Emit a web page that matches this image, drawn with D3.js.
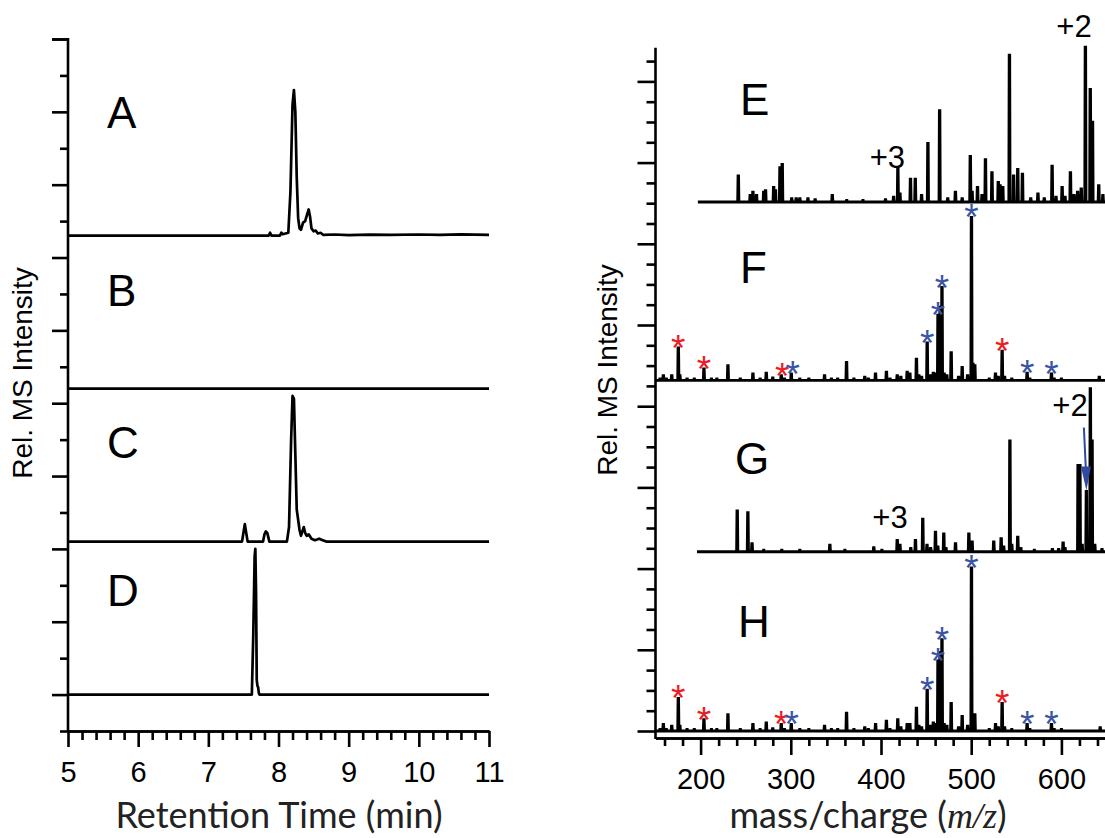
<!DOCTYPE html>
<html>
<head>
<meta charset="utf-8">
<script src="https://cdn.jsdelivr.net/npm/d3@7"></script>
<style>
  body { margin: 0; background: #fff; }
  svg { display: block; }
  text { font-family: "Liberation Sans", Arial, sans-serif; fill: #000; }
</style>
</head>
<body>
<div id="chart"></div>
<script>
// ---- chromatograms: [retention time (min), rel. intensity %]
const traceA = [[5,0],[7.86,0],[7.88,2],[7.9,0],[8.02,0],[8.04,2],[8.06,1],[8.1,1.5],[8.14,2],[8.17,30],[8.2,90],[8.22,100],[8.24,85],
  [8.26,40],[8.28,12],[8.3,5],[8.32,4],[8.35,9],[8.38,10],[8.41,15],[8.43,18],[8.45,13],[8.47,5],[8.5,3],[8.53,3.5],[8.56,1.5],
  [8.6,2],[8.64,0.5],[8.8,0.8],[9.0,0.4],[9.3,0.7],[9.6,0.5],[10.0,0.8],[10.3,0.5],[10.6,0.9],[11,0.6]];
const traceB = [[5,0],[11,0]];
const traceC = [[5,0],[7.48,0],[7.5,6],[7.52,12],[7.54,6],[7.56,0],[7.78,0],[7.8,5],[7.82,7],[7.84,6],[7.87,0],[8.12,0],[8.15,10],
  [8.18,70],[8.2,100],[8.22,98],[8.24,60],[8.26,22],[8.28,15],[8.3,8],[8.32,4],[8.34,7],[8.36,10],[8.38,6],[8.4,4],[8.43,5],
  [8.47,2],[8.52,1],[8.58,2],[8.63,1],[8.68,0],[11,0]];
const traceD = [[5,0],[7.62,0],[7.64,40],[7.66,95],[7.67,100],[7.68,70],[7.69,10],[7.7,6],[7.71,5],[7.72,1],[7.73,0],[11,0]];
const chromTraces = [traceA, traceB, traceC, traceD];
const chromLabels = ["A", "B", "C", "D"];
const rtTicks = [5, 6, 7, 8, 9, 10, 11];

// ---- mass spectra: [m/z, rel. intensity %]
const peaksE = [[241.8,16],[255,4],[258,6],[262,4],[270,6],[272,7],[281,9],[283,7],[288,21],[290.5,23],[301,2],[306,2],[310,2],
  [319,2],[327,1.5],[346,4],[362,1],[380,1],[405,1.5],[414,3],[418.7,20],[421,5],[432.7,14],[438,14],[445,4],[452,36],[465,56],
  [474,2],[482.5,6],[490,2],[499,28],[501,6],[507,9],[512,4],[515.8,26],[523,18],[530,12],[532,10],[535,9],[542.4,90],[547,16],
  [551.6,20],[556.8,17],[566,2],[574,5],[581,2],[589.7,22],[594,3],[600.8,9],[604,3],[610,18],[614,4],[618,6],[622,8],
  [626.6,95],[632,69],[634.5,49],[641.4,10],[646,4]];
const peaksF = [[155,1],[158.7,3],[162,1],[168,3],[175.3,20],[177,3],[185,1],[193,1],[203.7,7],[212,1],[218,1],[230.3,9],[244,1],
  [258,4],[266,1],[272.8,4.5],[280,1.5],[289.4,3],[293,1],[300.5,4],[310,1],[320,1],[337.4,3],[345,1],[352,1],[361.8,11],[370,1],
  [382,2],[386,1],[393.9,4],[406,5],[410,1],[418,3],[422,2],[429,5],[432,4],[439.3,13],[442,3],[445,2],[451.2,23],[455,3],
  [458,4.5],[460,4],[463.2,40],[465.5,45],[467.6,57],[470,4],[473,3],[477.8,17],[486,2],[490,8],[496,3],[500.3,100],[502,10],
  [504,9],[520,1],[526.9,4],[530,2],[534.3,18],[537,2],[545,1],[562,4.5],[565,1],[589,4],[592,1],[600,1],[642,2]];
const peaksG = [[240.6,25],[252.4,24],[257,5],[270,1],[290,1],[310,1],[343.3,4],[360,1],[392,2.5],[401,1],[418,7],[421,4],[433,2],
  [438.2,7],[446.3,20],[451,4],[455,2],[460.4,12],[463,3],[469.6,11],[472,2],[482.6,5],[497.4,11],[501,6],[525,6],[533.2,8],
  [536,3],[542.9,68],[545,4],[551.6,9],[555,2],[570,1],[590,1.5],[597,1.5],[601.9,5.5],[604,2],[618.5,53],[620.5,53],[623,4],
  [627.7,37],[632.1,100],[634,68],[637,4],[645,1.5]];
const peaksH = [[155,1],[158.7,4],[162,1],[168,3],[175.3,20],[177,3],[185,1],[193,1],[203.7,7],[212,1],[218,1],[230.3,10],[244,1],
  [258,4],[266,1],[272.8,5],[280,1.5],[289.4,4],[293,1],[300.5,4],[310,1],[320,1],[337.4,3],[345,1],[352,1],[361.8,11],[370,1],
  [382,2],[386,1],[394,4],[406,6],[410,1],[418.6,7],[422,2],[429,4],[432,4],[439.3,14],[442,3],[445,2],[451.2,25],[455,3],
  [458,5],[460,4],[463.2,43],[465.5,48],[467.6,56],[470,4],[473,3],[477.8,17],[486,2],[490,9],[496,3],[500.3,100],[502,10],
  [504,10],[520,1],[527,4],[530,2],[534.3,17],[537,2],[545,1],[562,4],[565,1],[589,4],[592,1],[600,1],[643,2]];
const spectra = [peaksE, peaksF, peaksG, peaksH];
const spectrumLabels = ["E", "F", "G", "H"];
const spectrumStart = [197, 150, 196, 150];
const mzTicks = [200, 300, 400, 500, 600];

// asterisk annotations: [m/z, colour key]
const starsF = [[175.3,"r"],[203.7,"r"],[290.4,"r"],[302,"b"],[451.2,"b"],[463.2,"b"],[467.6,"b"],[500.3,"b"],[534.3,"r"],[562,"b"],[589,"b"]];
const starsH = [[175.3,"r"],[203.7,"r"],[289.4,"r"],[301,"b"],[451.2,"b"],[463.2,"b"],[467.6,"b"],[500.3,"b"],[534.3,"r"],[562,"b"],[589,"b"]];

const starColor = {r: "#ed1c24", b: "#3b55a6"};

const W = 1105, H = 838;
const svg = d3.select("#chart").append("svg").attr("width", W).attr("height", H);

function axisStyle(g) {
  g.selectAll(".domain, .tick line").attr("stroke", "#000").attr("stroke-width", 2.6);
}

// ================= left: chromatograms =================
const xL = d3.scaleLinear().domain([5, 11]).range([68, 489]);
const yL = d3.scaleLinear().domain([0, 19]).range([731, 39]);
const chromBase = [13.6, 9.4, 5.2, 1.0];   // baseline of each trace (axis units)
const chromScale = 4 / 100;                 // 100 % -> 4 axis units

const left = svg.append("g");

left.append("g")
  .attr("transform", "translate(68,0)")
  .call(d3.axisLeft(yL).tickValues(d3.range(0, 20, 2)).tickSize(8).tickSizeOuter(0).tickFormat(""))
  .call(g => g.select(".domain").remove())
  .call(axisStyle);
left.append("g")
  .attr("transform", "translate(68,0)")
  .call(d3.axisLeft(yL).tickValues(d3.range(1, 20, 2).concat([19])).tickSize(16).tickSizeOuter(0).tickFormat(""))
  .call(g => g.select(".domain").remove())
  .call(axisStyle);
left.append("line").attr("x1", 68).attr("x2", 68).attr("y1", yL(19) - 1).attr("y2", yL(0) + 1)
  .attr("stroke", "#000").attr("stroke-width", 2.6);

left.append("g")
  .attr("transform", "translate(0,731)")
  .call(d3.axisBottom(xL).tickValues(d3.range(5, 11.001, 0.2).filter(v => Math.abs(v - Math.round(v)) > 0.01))
    .tickSize(9).tickSizeOuter(0).tickFormat(""))
  .call(axisStyle);
left.append("g")
  .attr("transform", "translate(0,731)")
  .call(d3.axisBottom(xL).tickValues(rtTicks).tickSize(16).tickSizeOuter(0).tickFormat(d3.format("d")))
  .call(g => g.selectAll("text").attr("y", 51).attr("dy", 0).style("font-size", "29px"))
  .call(axisStyle);

const chromLine = (k) => d3.line()
  .x(d => xL(d[0]))
  .y(d => yL(chromBase[k] + d[1] * chromScale));

chromTraces.forEach((t, k) => {
  left.append("path").datum(t)
    .attr("d", chromLine(k))
    .attr("fill", "none").attr("stroke", "#000")
    .attr("stroke-width", 2.7).attr("stroke-linejoin", "round");
});

const chromLabelY = [128, 306, 458, 606];
chromLabels.forEach((s, k) => {
  left.append("text").attr("x", 107).attr("y", chromLabelY[k])
    .style("font-size", "44px").text(s);
});

left.append("text")
  .attr("transform", "translate(32,373) rotate(-90)")
  .attr("text-anchor", "middle").style("font-size", "28px")
  .text("Rel. MS Intensity");

left.append("text")
  .attr("x", 279).attr("y", 828).attr("text-anchor", "middle")
  .style("font-family", "Lato, 'Open Sans', sans-serif").style("font-size", "36px").style("fill", "#222")
  .text("Retention Time (min)");

// ================= right: mass spectra =================
const xR = d3.scaleLinear().domain([150, 650]).range([655.5, 1106.5]);
const yR = d3.scaleLinear().domain([0, 34]).range([731, 40.8]);
const specBase = [26.06, 17.27, 8.83, 0];
const specScale = 8.03 / 100;

const right = svg.append("g");

right.append("g")
  .attr("transform", "translate(655.5,0)")
  .call(d3.axisLeft(yR).tickValues(d3.range(0, 34).filter(k => k % 4 !== 0)).tickSize(9).tickSizeOuter(0).tickFormat(""))
  .call(g => g.select(".domain").remove())
  .call(axisStyle);
right.append("g")
  .attr("transform", "translate(655.5,0)")
  .call(d3.axisLeft(yR).tickValues(d3.range(0, 34, 4)).tickSize(18).tickSizeOuter(0).tickFormat(""))
  .call(g => g.select(".domain").remove())
  .call(axisStyle);
right.append("line").attr("x1", 655.5).attr("x2", 655.5).attr("y1", yR(33.66)).attr("y2", yR(-0.35) + 1)
  .attr("stroke", "#000").attr("stroke-width", 2.6);

right.append("g")
  .attr("transform", "translate(0,738)")
  .call(d3.axisBottom(xR).tickValues(d3.range(160, 660, 20).filter(v => v % 100 !== 0)).tickSize(8).tickSizeOuter(0).tickFormat(""))
  .call(axisStyle);
right.append("g")
  .attr("transform", "translate(0,738)")
  .call(d3.axisBottom(xR).tickValues(mzTicks).tickSize(17).tickSizeOuter(0).tickFormat(d3.format("d")))
  .call(g => g.selectAll("text").attr("y", 51).attr("dy", 0).style("font-size", "29px"))
  .call(axisStyle);

function profile(peaks, start) {
  const pts = [[start, 0]];
  peaks.slice().sort((a, b) => a[0] - b[0]).forEach(([mz, h]) => {
    pts.push([mz - 0.7, 0], [mz - 0.3, h], [mz + 0.3, h], [mz + 0.7, 0]);
  });
  pts.push([660, 0]);
  return pts;
}

spectra.forEach((p, k) => {
  const line = d3.line()
    .x(d => xR(d[0]))
    .y(d => yR(specBase[k] + d[1] * specScale));
  right.append("path").datum(profile(p, spectrumStart[k]))
    .attr("d", line)
    .attr("fill", "none").attr("stroke", "#000")
    .attr("stroke-width", 2.8).attr("stroke-linejoin", "miter").attr("stroke-miterlimit", 2);
});

// asterisks above the marked peaks; stars that sit right next to each other
// share one text element (one tspan per star)
function drawStars(stars, peaks, k) {
  const pos = stars.map(([mz, c]) => {
    const near = peaks.reduce((a, b) => Math.abs(b[0] - mz) < Math.abs(a[0] - mz) ? b : a);
    return {x: xR(mz), y: yR(specBase[k] + near[1] * specScale) - 8 + 21, c};
  });
  const groups = [];
  pos.forEach(p => {
    const g = groups[groups.length - 1];
    if (g && Math.abs(p.x - g[g.length - 1].x) < 12) g.push(p);
    else groups.push([p]);
  });
  groups.forEach(g => {
    const t = right.append("text").attr("text-anchor", "middle").style("font-size", "37px");
    g.forEach(p => {
      t.append("tspan").attr("x", p.x).attr("y", p.y).style("fill", starColor[p.c]).text("*");
    });
  });
}
drawStars(starsF, peaksF, 1);
drawStars(starsH, peaksH, 3);

const specLabelPos = [[740, 115], [740, 283], [735, 474], [738, 637]];
spectrumLabels.forEach((s, k) => {
  right.append("text").attr("x", specLabelPos[k][0]).attr("y", specLabelPos[k][1])
    .style("font-size", "44px").text(s);
});

// charge state labels
const chargeLabels = [["+3", 407, 168], ["+2", 614, 37], ["+3", 410, 528], ["+2", 609.5, 416]];
chargeLabels.forEach(([s, mz, y]) => {
  right.append("text").attr("x", xR(mz)).attr("y", y)
    .attr("text-anchor", "middle").style("font-size", "31px").text(s);
});

// blue arrow to the +2 peak in G
const arrowTip = [627.7, 37];
const tipX = xR(arrowTip[0]), tipY = yR(specBase[2] + arrowTip[1] * specScale) - 1;
right.append("line")
  .attr("x1", tipX - 2.5).attr("y1", tipY - 63).attr("x2", tipX - 0.5).attr("y2", tipY - 20)
  .attr("stroke", "#2f4aa0").attr("stroke-width", 2);
right.append("path")
  .attr("d", `M${tipX - 5.5},${tipY - 24} L${tipX + 4.5},${tipY - 24} L${tipX},${tipY} Z`)
  .attr("fill", "#2f4aa0");

right.append("text")
  .attr("transform", "translate(617,370) rotate(-90)")
  .attr("text-anchor", "middle").style("font-size", "28px")
  .text("Rel. MS Intensity");

const mzTitle = right.append("text")
  .attr("x", 868).attr("y", 828).attr("text-anchor", "middle")
  .style("font-family", "Lato, 'Open Sans', sans-serif").style("font-size", "36px").style("fill", "#222");
mzTitle.append("tspan").text("mass/charge (");
mzTitle.append("tspan").style("font-family", "'Liberation Serif', serif").style("font-style", "italic").text("m/z");
mzTitle.append("tspan").text(")");
</script>
</body>
</html>
